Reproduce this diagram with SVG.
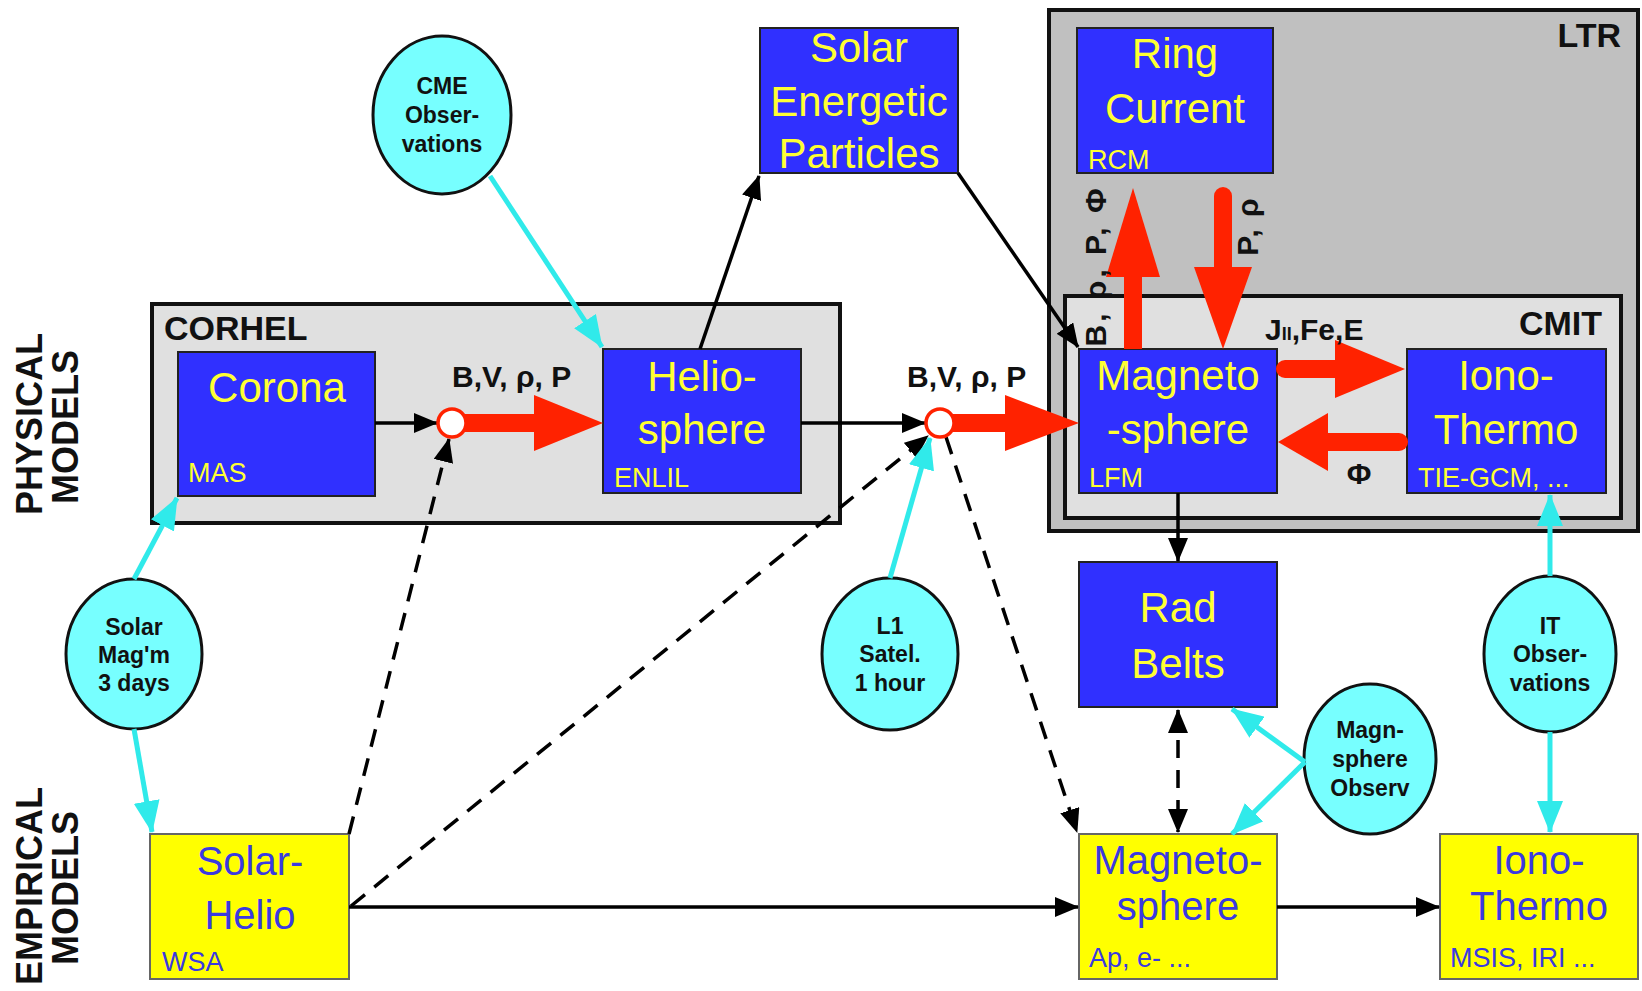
<svg xmlns="http://www.w3.org/2000/svg" width="1642" height="991" viewBox="0 0 1642 991">
<style>
.bg{fill:#fff}
.frame{stroke:#111;stroke-width:4}
.blue{fill:#3030ff;stroke:#222;stroke-width:2}
.yel{fill:#ffff00;stroke:#666;stroke-width:2}
.obs{fill:#77ffff;stroke:#111;stroke-width:3}
.ty{fill:#ffff33;font-family:"Liberation Sans",Arial,sans-serif;font-size:42px;text-anchor:middle}
.tys{fill:#ffff33;font-family:"Liberation Sans",Arial,sans-serif;font-size:27px}
.tb{fill:#3a3ae0;font-family:"Liberation Sans",Arial,sans-serif;font-size:40px;text-anchor:middle}
.tbs{fill:#3a3ae0;font-family:"Liberation Sans",Arial,sans-serif;font-size:27px}
.to{fill:#111;font-family:"Liberation Sans",Arial,sans-serif;font-size:23px;font-weight:bold;text-anchor:middle}
.tl{fill:#111;font-family:"Liberation Sans",Arial,sans-serif;font-size:30px;font-weight:bold}
.th{fill:#111;font-family:"Liberation Sans",Arial,sans-serif;font-size:34px;font-weight:bold}
.side{fill:#111;font-family:"Liberation Sans",Arial,sans-serif;font-size:36px;font-weight:bold;text-anchor:middle}
.blk{stroke:#000;stroke-width:3.5;fill:none}
.dash{stroke:#000;stroke-width:3.5;fill:none;stroke-dasharray:18 12}
.cy{stroke:#30eaea;stroke-width:5;fill:none}
.rs{stroke:#ff2200;stroke-width:18;fill:none}
.rsr{stroke:#ff2200;stroke-width:18;fill:none;stroke-linecap:round}
.rh{fill:#ff2200}
.node{fill:#fff;stroke:#ff2200;stroke-width:3.5}
</style>
<defs>
<marker id="ab" viewBox="0 0 24 20" refX="23" refY="10" markerWidth="24" markerHeight="20" orient="auto-start-reverse" markerUnits="userSpaceOnUse"><path d="M0,0 L24,10 L0,20 z" fill="#000"/></marker>
<marker id="ac" viewBox="0 0 32 26" refX="31" refY="13" markerWidth="32" markerHeight="26" orient="auto" markerUnits="userSpaceOnUse"><path d="M0,0 L32,13 L0,26 z" fill="#30eaea"/></marker>
</defs>
<rect class="bg" x="0" y="0" width="1642" height="991"/>

<g id="side-labels">
<text class="side" transform="translate(42,424) rotate(-90)">PHYSICAL</text>
<text class="side" transform="translate(78,427) rotate(-90)">MODELS</text>
<text class="side" transform="translate(42,886) rotate(-90)">EMPIRICAL</text>
<text class="side" transform="translate(78,888) rotate(-90)">MODELS</text>
</g>

<g id="LTR">
<rect class="frame" x="1049" y="10" width="589" height="521" fill="#c0c0c0"/>
<text class="th" x="1621" y="47" text-anchor="end">LTR</text>
</g>
<g id="CMIT">
<rect class="frame" x="1065" y="296" width="556" height="222" fill="#e0e0e0"/>
<text class="th" x="1602" y="335" text-anchor="end">CMIT</text>
</g>
<g id="CORHEL">
<rect class="frame" x="152" y="304" width="688" height="219" fill="#e0e0e0"/>
<text class="th" x="164" y="340">CORHEL</text>
</g>

<g id="corona">
<rect class="blue" x="178" y="352" width="197" height="144"/>
<text class="ty" x="277" y="402">Corona</text>
<text class="tys" x="188" y="482">MAS</text>
</g>
<g id="heliosphere">
<rect class="blue" x="603" y="349" width="198" height="144"/>
<text class="ty" x="702" y="391">Helio-</text>
<text class="ty" x="702" y="444">sphere</text>
<text class="tys" x="614" y="487">ENLIL</text>
</g>
<g id="sep">
<rect class="blue" x="760" y="28" width="198" height="145"/>
<text class="ty" x="859" y="62">Solar</text>
<text class="ty" x="859" y="116">Energetic</text>
<text class="ty" x="859" y="168">Particles</text>
</g>
<g id="ring-current">
<rect class="blue" x="1077" y="28" width="196" height="145"/>
<text class="ty" x="1175" y="68">Ring</text>
<text class="ty" x="1175" y="123">Current</text>
<text class="tys" x="1088" y="169">RCM</text>
</g>
<g id="magnetosphere-phys">
<rect class="blue" x="1079" y="349" width="198" height="144"/>
<text class="ty" x="1178" y="390">Magneto</text>
<text class="ty" x="1178" y="444">-sphere</text>
<text class="tys" x="1089" y="487">LFM</text>
</g>
<g id="iono-thermo-phys">
<rect class="blue" x="1407" y="349" width="199" height="144"/>
<text class="ty" x="1506" y="390">Iono-</text>
<text class="ty" x="1506" y="444">Thermo</text>
<text class="tys" x="1418" y="487">TIE-GCM, ...</text>
</g>
<g id="rad-belts">
<rect class="blue" x="1079" y="562" width="198" height="145"/>
<text class="ty" x="1178" y="622">Rad</text>
<text class="ty" x="1178" y="678">Belts</text>
</g>

<g id="solar-helio">
<rect class="yel" x="150" y="834" width="199" height="145"/>
<text class="tb" x="250" y="875">Solar-</text>
<text class="tb" x="250" y="929">Helio</text>
<text class="tbs" x="162" y="971">WSA</text>
</g>
<g id="magnetosphere-emp">
<rect class="yel" x="1079" y="834" width="198" height="145"/>
<text class="tb" x="1178" y="874">Magneto-</text>
<text class="tb" x="1178" y="920">sphere</text>
<text class="tbs" x="1089" y="967">Ap, e- ...</text>
</g>
<g id="iono-thermo-emp">
<rect class="yel" x="1440" y="834" width="198" height="145"/>
<text class="tb" x="1539" y="874">Iono-</text>
<text class="tb" x="1539" y="920">Thermo</text>
<text class="tbs" x="1450" y="967">MSIS, IRI ...</text>
</g>

<g id="cme-obs">
<ellipse class="obs" cx="442" cy="115" rx="69" ry="79"/>
<text class="to" x="442" y="94">CME</text>
<text class="to" x="442" y="123">Obser-</text>
<text class="to" x="442" y="152">vations</text>
</g>
<g id="solar-magm">
<ellipse class="obs" cx="134" cy="654" rx="68" ry="75"/>
<text class="to" x="134" y="635">Solar</text>
<text class="to" x="134" y="663">Mag'm</text>
<text class="to" x="134" y="691">3 days</text>
</g>
<g id="l1-satel">
<ellipse class="obs" cx="890" cy="654" rx="68" ry="76"/>
<text class="to" x="890" y="634">L1</text>
<text class="to" x="890" y="662">Satel.</text>
<text class="to" x="890" y="691">1 hour</text>
</g>
<g id="it-obs">
<ellipse class="obs" cx="1550" cy="654" rx="66" ry="78"/>
<text class="to" x="1550" y="634">IT</text>
<text class="to" x="1550" y="662">Obser-</text>
<text class="to" x="1550" y="691">vations</text>
</g>
<g id="magn-obs">
<ellipse class="obs" cx="1370" cy="759" rx="66" ry="75"/>
<text class="to" x="1370" y="738">Magn-</text>
<text class="to" x="1370" y="767">sphere</text>
<text class="to" x="1370" y="796">Observ</text>
</g>

<g id="connectors">
<path class="blk" d="M375,423 L437,423" marker-end="url(#ab)"/>
<path class="blk" d="M801,423 L925,423" marker-end="url(#ab)"/>
<path class="blk" d="M700,349 L759,176" marker-end="url(#ab)"/>
<path class="blk" d="M958,173 L1078,347" marker-end="url(#ab)"/>
<path class="blk" d="M1178,493 L1178,561" marker-end="url(#ab)"/>
<path class="blk" d="M349,907 L1078,907" marker-end="url(#ab)"/>
<path class="blk" d="M1277,907 L1439,907" marker-end="url(#ab)"/>
<path class="dash" d="M349,834 L449,439" marker-end="url(#ab)"/>
<path class="dash" d="M351,906 L928,436" marker-end="url(#ab)"/>
<path class="dash" d="M946,437 L1077,832" marker-end="url(#ab)"/>
<path class="dash" d="M1178,710 L1178,832" marker-start="url(#ab)" marker-end="url(#ab)"/>
<path class="cy" d="M134,579 L177,498" marker-end="url(#ac)"/>
<path class="cy" d="M134,729 L152,832" marker-end="url(#ac)"/>
<path class="cy" d="M490,176 L602,347" marker-end="url(#ac)"/>
<path class="cy" d="M890,578 L930,438" marker-end="url(#ac)"/>
<path class="cy" d="M1550,576 L1550,495" marker-end="url(#ac)"/>
<path class="cy" d="M1550,732 L1550,832" marker-end="url(#ac)"/>
<path class="cy" d="M1305,762 L1232,709" marker-end="url(#ac)"/>
<path class="cy" d="M1305,762 L1232,834" marker-end="url(#ac)"/>
<path class="rs" d="M460,423 L536,423"/>
<polygon class="rh" points="534,395 603,423 534,451"/>
<path class="rs" d="M948,423 L1007,423"/>
<polygon class="rh" points="1005,395 1079,423 1005,451"/>
<path class="rs" d="M1133,349 L1133,275"/>
<polygon class="rh" points="1106,277 1133,188 1160,277"/>
<path class="rsr" d="M1223,196 L1223,269"/>
<polygon class="rh" points="1194,267 1223,349 1252,267"/>
<path class="rsr" d="M1285,369 L1337,369"/>
<polygon class="rh" points="1335,340 1405,369 1335,398"/>
<path class="rsr" d="M1399,442 L1326,442"/>
<polygon class="rh" points="1328,413 1278,442 1328,471"/>
<circle class="node" cx="452" cy="423" r="14"/>
<circle class="node" cx="940" cy="423" r="14"/>
<text class="tl" x="452" y="387">B,V, ρ, P</text>
<text class="tl" x="907" y="387">B,V, ρ, P</text>
<text class="tl" text-anchor="middle" letter-spacing="3" transform="translate(1106,266) rotate(-90)">B, ρ, P, Φ</text>
<text class="tl" text-anchor="middle" letter-spacing="2" transform="translate(1258,226) rotate(-90)">P, ρ</text>
<text class="tl" x="1265" y="340" font-size="32">J<tspan font-size="18">II</tspan>,Fe,E</text>
<text class="tl" x="1359" y="484" text-anchor="middle" font-weight="normal" font-size="28">Φ</text>
</g>
</svg>
